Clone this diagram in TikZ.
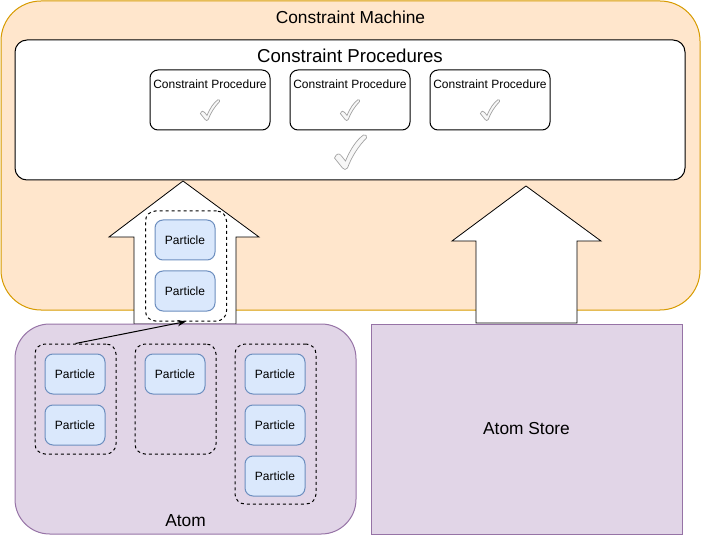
\documentclass[tikz,border=0pt]{standalone}
\usepackage{fontspec}
\setmainfont{Liberation Sans}
\usetikzlibrary{positioning,arrows.meta}
\definecolor{machinefill}{HTML}{FFE6CC}
\definecolor{machinedraw}{HTML}{D79B00}
\definecolor{atomfill}{HTML}{E1D5E7}
\definecolor{atomdraw}{HTML}{9673A6}
\definecolor{partfill}{HTML}{DAE8FC}
\definecolor{partdraw}{HTML}{6C8EBF}
\begin{document}
\begin{tikzpicture}[
  x=0.75pt, y=-0.75pt,
  >=Stealth,
  line width=0.75pt,
  every node/.style={inner sep=0pt, font={\fontsize{9}{11}\selectfont}},
  bigfont/.style={font={\fontsize{13}{15}\selectfont}},
  particle/.style={draw=partdraw, fill=partfill, rounded corners=6pt,
    minimum width=45pt, minimum height=30pt},
  group/.style={draw, dash pattern=on 2.25pt off 2.25pt, rounded corners=7.5pt,
    minimum width=60.75pt},
  procbox/.style={draw, fill=white, rounded corners=6pt,
    minimum width=90pt, minimum height=45pt},
  bigarrow/.style={draw, fill=white, line width=0.6pt},
  tick/.pic={
    \draw[gray!75, fill=gray!6, line width=0.5pt]
      (-16,6) .. controls (-14,1) and (-11,1) .. (-9,4) -- (-5,9)
      .. controls (0,-3) and (6,-12) .. (13,-17)
      .. controls (15,-18) and (17,-16) .. (16,-14)
      .. controls (8,-6) and (1,5) .. (-3,16)
      .. controls (-4,18) and (-7,18) .. (-8,16) -- cycle;
  }
]
  \useasboundingbox (0,0) rectangle (701,535);
  % constraint machine
  \node[draw=machinedraw, fill=machinefill, rounded corners=30pt,
    minimum width=524.25pt, minimum height=231.75pt] (machine) at (350.5,155.5) {};
  \node[bigfont] at ([yshift=-12.5pt]machine.north) {Constraint Machine};
  \node[draw, fill=white, rounded corners=9pt,
    minimum width=502.5pt, minimum height=105pt] (procs) at (350,110) {};
  \node[font={\fontsize{14}{16}\selectfont}] at ([yshift=-12.5pt]procs.north) {Constraint Procedures};
  \foreach \i/\x in {1/210, 2/350, 3/490} {
    \node[procbox] (proc\i) at (\x,100) {};
    \node at ([yshift=-11.25pt]proc\i.north) {Constraint Procedure};
    \pic[scale=0.6] at ([yshift=-7.5pt]proc\i.center) {tick};
  }
  \pic at (350.5,152) {tick};

  % big arrows
  \draw[bigarrow] (183,181) -- (259,237) -- (236,237) -- (236,324)
    -- (134,324) -- (134,237) -- (109,237) -- cycle;
  \draw[bigarrow] (526,186) -- (601,241) -- (577,241) -- (577,323)
    -- (476,323) -- (476,241) -- (452,241) -- cycle;
  \node[group, minimum height=82.5pt] (moved) at (186,266) {};
  \node[particle] (mp1) at (185,240) {Particle};
  \node[particle, below=7.5pt of mp1] (mp2) {Particle};

  % atom
  \node[draw=atomdraw, fill=atomfill, rounded corners=26pt,
    minimum width=255.75pt, minimum height=157.5pt] (atom) at (185.5,429) {};
  \node[bigfont] at ([yshift=10.5pt]atom.south) {Atom};
  \node[group, minimum height=82.5pt] (g1) at (75.5,399) {};
  \node[group, minimum height=82.5pt] (g2) at (175.5,399) {};
  \node[group, minimum height=120pt] (g3) at (275.5,424) {};
  \node[particle] (p11) at (75,374) {Particle};
  \node[particle, below=7.5pt of p11] (p12) {Particle};
  \node[particle] (p21) at (175,374) {Particle};
  \node[particle] (p31) at (275,374) {Particle};
  \node[particle, below=7.5pt of p31] (p32) {Particle};
  \node[particle, below=7.5pt of p32] (p33) {Particle};
  \draw[->, line width=0.75pt] (g1.north) -- (moved.south);

  % atom store
  \node[draw=atomdraw, fill=atomfill, minimum width=233.25pt,
    minimum height=157.5pt, bigfont] (store) at (526.5,429) {Atom Store};
\end{tikzpicture}
\end{document}
